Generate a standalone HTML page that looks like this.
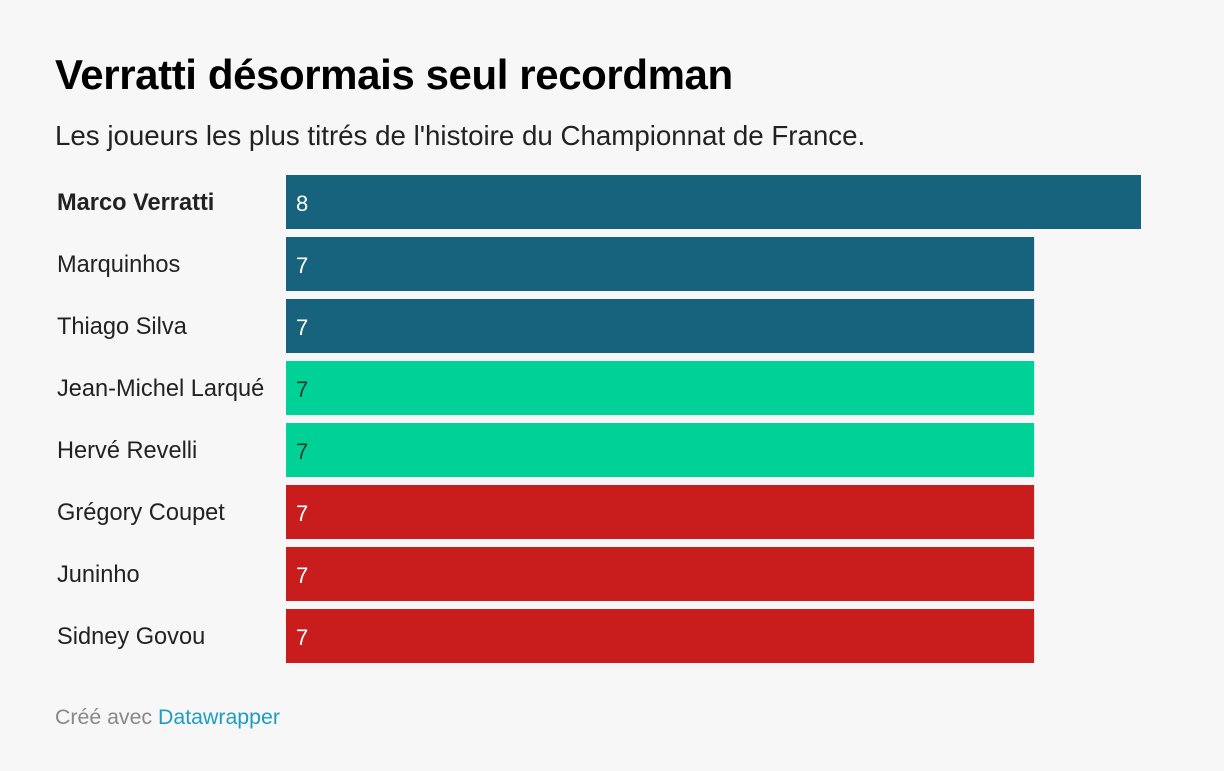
<!DOCTYPE html>
<html><head><meta charset="utf-8"><style>
body{margin:0;width:1224px;height:771px;background:#f7f7f7;font-family:"Liberation Sans",sans-serif;position:relative;overflow:hidden;color:#000}
.t{position:absolute;left:55px;top:51px;font-size:42px;font-weight:bold;letter-spacing:-0.4px}
.s{position:absolute;left:55px;top:120px;font-size:27.7px;color:#222}
.f{position:absolute;left:55px;top:705px;font-size:21.3px;color:#888}
.f span{color:#1d9ec0}
</style></head><body>
<div class="t">Verratti désormais seul recordman</div>
<div class="s">Les joueurs les plus titrés de l'histoire du Championnat de France.</div>
<svg id="c" width="1224" height="771" style="position:absolute;left:0;top:0"></svg>
<div class="f">Créé avec <span>Datawrapper</span></div>
<script>
const names=["Marco Verratti","Marquinhos","Thiago Silva","Jean-Michel Larqué","Hervé Revelli","Grégory Coupet","Juninho","Sidney Govou"];
const values=[8,7,7,7,7,7,7,7];
const groups=["psg","psg","psg","ase","ase","ol","ol","ol"];
const colors={psg:"#17637d",ase:"#00d196",ol:"#c91d1d"};
const textColors={psg:"#fff",ase:"#1a3a2e",ol:"#fff"};
const svg=document.getElementById('c');
const NS="http://www.w3.org/2000/svg";
const x0=286,unit=855/8;
const xs=v=>v*unit;
const ys=i=>175+i*62;
names.forEach((n,i)=>{
  const g=groups[i];
  const lab=document.createElementNS(NS,'text');
  
  
  lab.setAttribute('x',57);lab.setAttribute('y',ys(i)+35);
  lab.setAttribute('font-size','23.6');lab.setAttribute('fill','#222');
  if(i===0)lab.setAttribute('font-weight','bold');
  lab.textContent=n;svg.appendChild(lab);
  const r=document.createElementNS(NS,'rect');
  
  
  r.setAttribute('x',x0);r.setAttribute('y',ys(i));
  r.setAttribute('width',xs(values[i]));r.setAttribute('height',54);
  r.setAttribute('fill',colors[g]);svg.appendChild(r);
  const v=document.createElementNS(NS,'text');
  
  
  v.setAttribute('x',x0+10);v.setAttribute('y',ys(i)+36);
  v.setAttribute('font-size','22');v.setAttribute('fill',textColors[g]);
  v.textContent=values[i];svg.appendChild(v);
});
</script>
</body></html>
